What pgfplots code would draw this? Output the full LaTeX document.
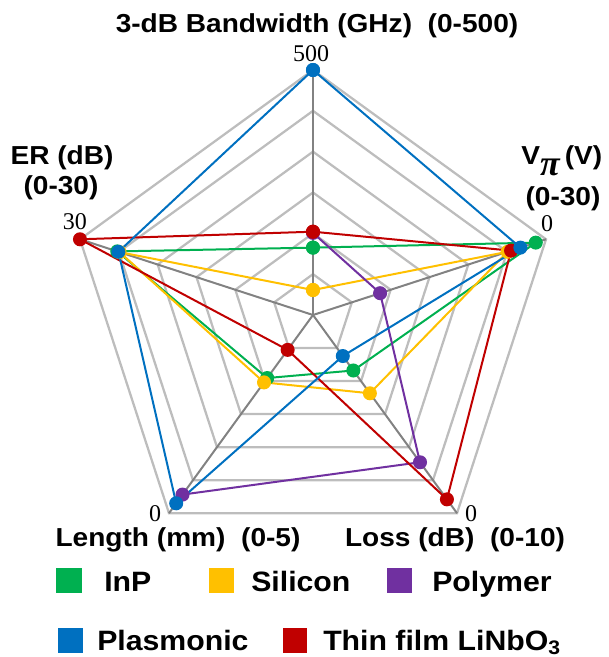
\documentclass[border=0pt]{standalone}
\usepackage{pgfplots}
\pgfplotsset{compat=1.18}
\usepgfplotslibrary{polar}
\usepackage{fontspec}
\setmainfont{Liberation Sans}[FakeStretch=1.08]
\newfontfamily\numfont{Liberation Serif}
\definecolor{inpgreen}{HTML}{00B050}
\definecolor{sigold}{HTML}{FFC000}
\definecolor{polypurple}{HTML}{7030A0}
\definecolor{plasblue}{HTML}{0070C0}
\definecolor{lnred}{HTML}{C00000}
\definecolor{ringgray}{HTML}{BDBDBD}
\definecolor{spokegray}{HTML}{828282}
\newcommand\lab{\fontsize{19.5}{22}\selectfont\bfseries}
\newcommand\leg{\fontsize{21}{24}\selectfont\bfseries}
\newcommand\num{\fontsize{18}{20}\selectfont\numfont}
\begin{document}
\begin{tikzpicture}
\begin{polaraxis}[
  scale only axis, width=367.5pt, height=367.5pt,
  ymin=0, ymax=1, xmin=0, xmax=360,
  hide axis, clip=false, xtick=\empty, ytick=\empty,
  ring/.style={draw=ringgray, line width=1.7pt, no marks},
  spoke/.style={draw=spokegray, line width=1.5pt, no marks},
  series/.style={draw=#1, line width=1.5pt, mark=*, mark size=4.5pt,
                 mark options={solid, fill=#1, draw=#1}},
]
% pentagon rings
\addplot[ring] coordinates {(90,0.16667)(18,0.16667)(306,0.16667)(234,0.16667)(162,0.16667)(90,0.16667)};
\addplot[ring] coordinates {(90,0.33333)(18,0.33333)(306,0.33333)(234,0.33333)(162,0.33333)(90,0.33333)};
\addplot[ring] coordinates {(90,0.5)(18,0.5)(306,0.5)(234,0.5)(162,0.5)(90,0.5)};
\addplot[ring] coordinates {(90,0.66667)(18,0.66667)(306,0.66667)(234,0.66667)(162,0.66667)(90,0.66667)};
\addplot[ring] coordinates {(90,0.83333)(18,0.83333)(306,0.83333)(234,0.83333)(162,0.83333)(90,0.83333)};
\addplot[ring] coordinates {(90,1)(18,1)(306,1)(234,1)(162,1)(90,1)};
% spokes
\addplot[spoke] coordinates {(90,0)(90,1)};
\addplot[spoke] coordinates {(18,0)(18,1)};
\addplot[spoke] coordinates {(306,0)(306,1)};
\addplot[spoke] coordinates {(234,0)(234,1)};
\addplot[spoke] coordinates {(162,0)(162,1)};
% series: angle = axis (90 BW, 18 Vpi, 306 Loss, 234 Length, 162 ER), radius = normalised value
% InP
\addplot[series=inpgreen] coordinates {(90,0.275)(18,0.956)(306,0.28)(234,0.318)(162,0.84)(90,0.275)};
% Silicon
\addplot[series=sigold] coordinates {(90,0.102)(18,0.835)(306,0.395)(234,0.34)(162,0.83)(90,0.102)};
% Polymer
\addplot[series=polypurple] coordinates {(90,0.335)(18,0.288)(306,0.743)(234,0.906)};
% Thin film LiNbO3
\addplot[series=lnred] coordinates {(90,0.34)(18,0.85)(306,0.93)(234,0.176)(162,1.0)(90,0.34)};
% Plasmonic
\addplot[series=plasblue] coordinates {(90,1.0)(18,0.89)(306,0.207)(234,0.95)(162,0.835)(90,1.0)};
\coordinate (C) at (axis cs:0,0);
\end{polaraxis}
\begin{scope}[shift={(C)}, x=0.75pt, y=-0.75pt, shift={(-313,-315)}, every node/.style={inner sep=0pt}]
\node[anchor=base] at (317,33) {\lab 3-dB Bandwidth (GHz)~~(0-500)};
\node[anchor=base] at (311,62) {\num 500};
\node[anchor=base] at (62,165) {\lab ER (dB)};
\node[anchor=base] at (61,195) {\lab (0-30)};
\node[anchor=base] at (75,230) {\num 30};
\node[anchor=base west] at (521,165) {\lab V\raisebox{-0.4em}{\fontsize{27}{28}\selectfont\numfont\bfseries\itshape π}\hspace{0.2em}(V)};
\node[anchor=base] at (563,206) {\lab (0-30)};
\node[anchor=base] at (547,232) {\num 0};
\node[anchor=base] at (155,522) {\num 0};
\node[anchor=base] at (471,522) {\num 0};
\node[anchor=base] at (178,546) {\lab Length (mm)~~(0-5)};
\node[anchor=base] at (455,546) {\lab Loss (dB)~~(0-10)};
% legend
\fill[inpgreen] (56,568) rectangle (82,593);
\node[anchor=base west] at (104,592) {\leg InP};
\fill[sigold] (209,568) rectangle (234,593);
\node[anchor=base west] at (251,592) {\leg Silicon};
\fill[polypurple] (387,568) rectangle (412,593);
\node[anchor=base west] at (432,592) {\leg Polymer};
\fill[plasblue] (58,628) rectangle (83,653);
\node[anchor=base west] at (97,650) {\leg Plasmonic};
\fill[lnred] (283,628) rectangle (307,653);
\node[anchor=base west] at (323,650) {\leg Thin film LiNbO\textsubscript{3}};
\pgfresetboundingbox
\path[use as bounding box] (0,0) rectangle (608,657);
\end{scope}
\end{tikzpicture}
\end{document}
